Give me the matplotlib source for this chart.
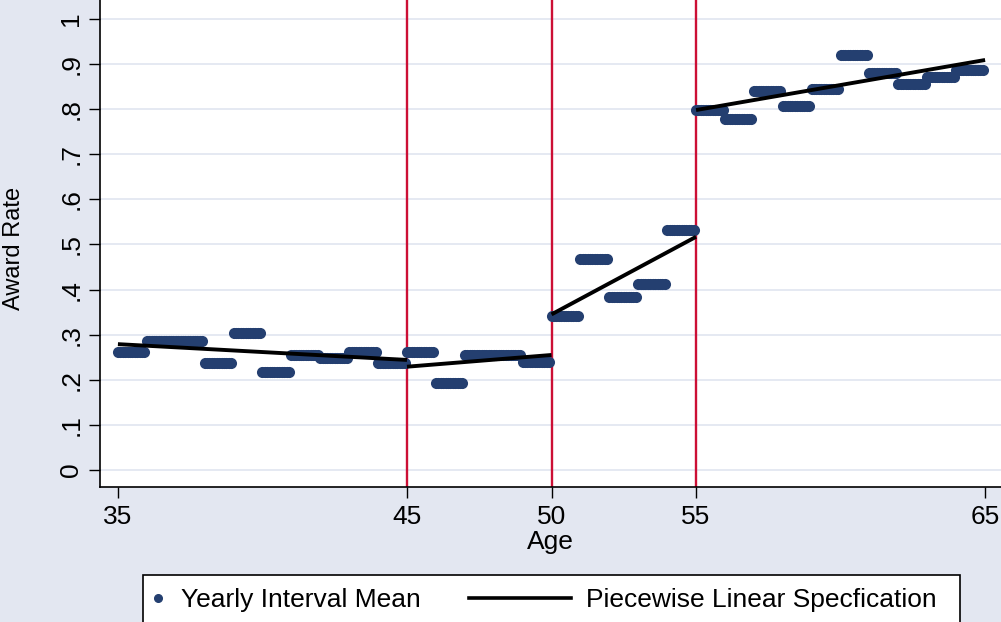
import numpy as np
import matplotlib.pyplot as plt
from matplotlib.lines import Line2D
from matplotlib.patches import Rectangle

# yearly interval means of the award rate, ages 35..64
ages = np.arange(35, 65)
rate = [0.262, 0.286, 0.287, 0.238, 0.304, 0.218, 0.255, 0.249, 0.262, 0.237,
        0.262, 0.192, 0.254, 0.254, 0.240, 0.342, 0.468, 0.383, 0.413, 0.531,
        0.799, 0.778, 0.841, 0.808, 0.845, 0.919, 0.881, 0.855, 0.871, 0.887]

# piecewise linear fit, endpoints of each segment
seg_x = [(35, 45), (45, 50), (50, 55), (55, 65)]
seg_y = [(0.279, 0.244), (0.229, 0.255), (0.345, 0.517), (0.798, 0.909)]

knots = [45, 50, 55]
xticks = [35, 45, 50, 55, 65]
yticks = np.round(np.arange(0, 1.01, 0.1), 1)
ylabels = ["0"] + ["." + str(i) for i in range(1, 10)] + ["1"]

plt.rcParams['font.family'] = ['Liberation Sans', 'DejaVu Sans']
bg = '#e3e7f1'
navy = '#243f70'
fs = 19
W, H = 1001, 622


class LongLine:
    # line handle that reaches back into the column gap
    def legend_artist(self, legend, orig_handle, fontsize, handlebox):
        x0, y0 = handlebox.xdescent, handlebox.ydescent
        w, h = handlebox.width, handlebox.height
        ln = Line2D([x0 - 3.2 * fontsize, x0 + w], [y0 + h / 2] * 2,
                    color='black', lw=2.6)
        handlebox.add_artist(ln)
        return ln


fig = plt.figure(figsize=(W / 100, H / 100), dpi=100, facecolor=bg)
ax = fig.add_axes([100 / W, 1 - 487 / H, 901 / W, 487 / H])

# each yearly mean is shown for every month of that year of age
month_age = np.arange(35 * 12, 65 * 12) / 12
month_rate = np.repeat(rate, 12)

for k in knots:
    ax.axvline(k, color='#cc0f35', lw=1.7, zorder=1)

ax.plot(month_age, month_rate, 'o', color=navy, ms=8, mew=0, zorder=2)
for xs, ys in zip(seg_x, seg_y):
    ax.plot(xs, ys, color='black', lw=2.8, zorder=3, solid_capstyle='butt')

ax.set_xlim(34.38, 65.55)
ax.set_ylim(-0.0377, 1.042)
ax.set_xticks(xticks)
ax.set_yticks(yticks)
ax.set_yticklabels(ylabels, rotation=90, va='center')
ax.tick_params(axis='both', labelsize=fs, length=8, width=1, direction='out')
ax.tick_params(axis='x', pad=5)
ax.tick_params(axis='y', pad=4)
ax.grid(axis='y', color='#e3e7f1', lw=1.3)
ax.set_axisbelow(True)
for s in ['top', 'right']:
    ax.spines[s].set_visible(False)
ax.spines['left'].set_linewidth(1.2)
ax.spines['bottom'].set_linewidth(1.2)

ax.set_xlabel('Age', fontsize=fs)
ax.set_ylabel('Award Rate', fontsize=17)
ax.xaxis.set_label_coords(0.5, -0.088)
ax.yaxis.set_label_coords(-0.0835, 0.49)

# legend frame (its bottom edge runs past the figure)
fig.add_artist(Rectangle((143 / W, -0.05), (960 - 143) / W, (H - 575) / H + 0.05,
                         transform=fig.transFigure, facecolor='white',
                         edgecolor='black', lw=1.2, zorder=1))

handles = [Line2D([], [], marker='o', ls='none', color=navy, ms=5.5),
           Line2D([], [], color='black')]
leg = fig.legend(handles, ['Yearly Interval Mean', 'Piecewise Linear Specfication'],
                 loc='center left', bbox_to_anchor=(149 / W, 1 - 600 / H), ncol=2,
                 fontsize=fs, frameon=False, handlelength=0.68,
                 columnspacing=5.0, handletextpad=0.55, borderpad=0,
                 borderaxespad=0, handler_map={handles[1]: LongLine()})
leg.set_zorder(2)

fig.savefig('out.png', dpi=100, facecolor=bg)
